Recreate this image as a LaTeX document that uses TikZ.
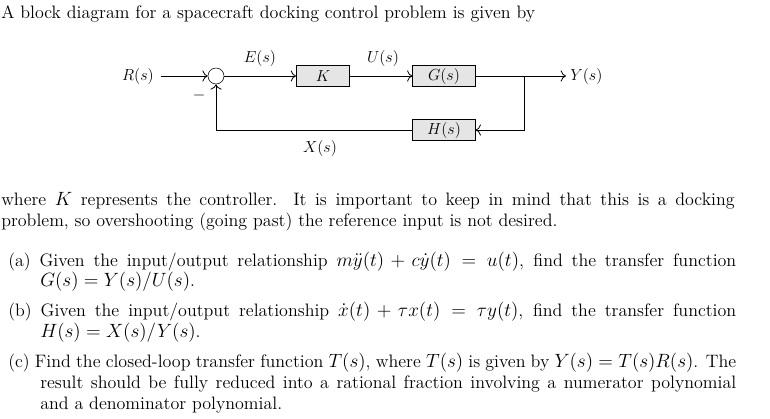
\documentclass[tikz,border=0pt]{standalone}
\usetikzlibrary{arrows.meta}
\begin{document}
\begin{tikzpicture}[x=0.75pt,y=-0.75pt,
  blk/.style={draw,fill=gray!20,minimum height=16pt,inner sep=0pt},
  sumc/.style={draw,circle,minimum size=12pt,inner sep=0pt},
  ar/.style={-{To[length=4pt]},line width=0.6pt},
  lab/.style={font=\fontsize{12.5}{14}\selectfont},
  txt/.style={anchor=west,inner sep=0pt,font=\fontsize{13.5}{16}\selectfont}]
\useasboundingbox (0,0) rectangle (770,418);
\node[txt] (t1) at (1,14) {A block diagram for a spacecraft docking control problem is given by};
% diagram
\node[anchor=east,inner sep=0pt,lab] (R) at (154,76) {$R(s)$};
\node[sumc] (S) at (216,76) {};
\node[blk,minimum width=40pt,lab] (K) at (323,76) {$K$};
\node[blk,minimum width=47pt,lab] (G) at (444,76) {$G(s)$};
\node[blk,minimum width=47pt,lab] (H) at (444,130) {$H(s)$};
\coordinate (B) at (524,76);
\node[anchor=west,inner sep=0pt,lab] (Y) at (570,76) {$Y(s)$};
\draw[ar] ([xshift=5pt]R.east) -- (S);
\draw[ar] (S) -- (K);
\draw[ar] (K) -- (G);
\draw[ar] (G) -- ([xshift=-3pt]Y.west);
\draw[ar] (B) |- (H);
\draw[ar] (H) -| (S);
\node[lab] (E) at (260,58) {$E(s)$};
\node[lab] (U) at (383,58) {$U(s)$};
\node[lab] (X) at (320,148) {$X(s)$};
\node[lab] (m) at (199,95) {$-$};
% text
\node[txt] (t2) at (1,201) {\makebox[550pt][s]{where $K$ represents the controller. It is important to keep in mind that this is a docking}};
\node[txt] (t3) at (1,222) {problem, so overshooting (going past) the reference input is not desired.};
\node[txt] (a1) at (8,262) {\makebox[546pt][s]{(a) Given the input/output relationship $m\ddot{y}(t)+c\dot{y}(t)\mathrel{=}u(t)$, find the transfer function}};
\node[txt] (a2) at (40,282) {$G(s)=Y(s)/U(s)$.};
\node[txt] (b1) at (8,312) {\makebox[546pt][s]{(b) Given the input/output relationship $\dot{x}(t)+\tau x(t)\mathrel{=}\tau y(t)$, find the transfer function}};
\node[txt] (b2) at (40,333) {$H(s)=X(s)/Y(s)$.};
\node[txt] (c1) at (8,363) {\makebox[546pt][s]{(c) Find the closed-loop transfer function $T(s)$, where $T(s)$ is given by $Y(s)=T(s)R(s)$. The}};
\node[txt] (c2) at (40,384) {\makebox[522pt][s]{result should be fully reduced into a rational fraction involving a numerator polynomial}};
\node[txt] (c3) at (40,405) {and a denominator polynomial.};
\end{tikzpicture}
\end{document}
